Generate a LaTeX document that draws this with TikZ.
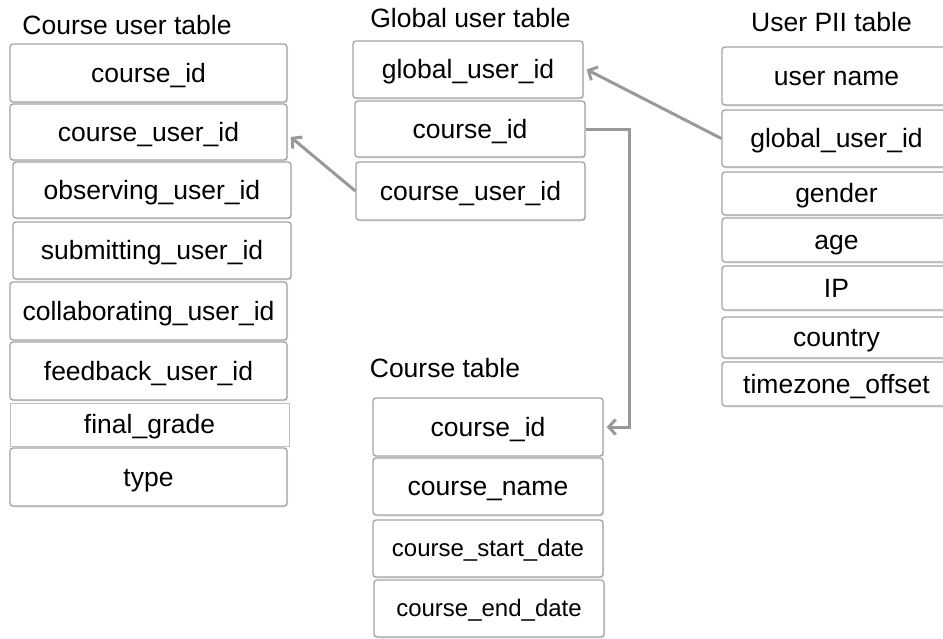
\documentclass[tikz,border=0pt]{standalone}
\usepackage{fontspec}
\setmainfont{Liberation Sans}
\usetikzlibrary{arrows.meta, shadows}

\definecolor{boxgray}{HTML}{A3A3A3}
\definecolor{linkgray}{HTML}{999999}
\newcommand{\fieldfont}{\fontsize{26.5}{30}\selectfont}
\newcommand{\smallfieldfont}{\fontsize{24}{28}\selectfont}

\begin{document}
\begin{tikzpicture}[x=1pt, y=-1pt,
		field/.style={draw=boxgray, line width=1.3pt, rounded corners=3pt, fill=white, inner sep=0pt,
			text height=18pt, text depth=0pt, font=\fieldfont,
			drop shadow={opacity=0.2, shadow xshift=1pt, shadow yshift=-1.5pt}},
		title/.style={font=\fieldfont, inner sep=0pt},
		link/.style={draw=linkgray, line width=3pt, -{Straight Barb[length=7pt,width=15pt,line width=3pt]}}]

		\useasboundingbox (0,0) rectangle (943,638);

		% course user table
		\node at (127,25) [title] (CUTitle) {Course user table};
		\node at (148.5,73) [field,minimum width=277pt,minimum height=58pt] (CUCourseId) {course\_id};
		\node at (148.5,132) [field,minimum width=277pt,minimum height=56pt] (CUCourseUserId) {course\_user\_id};
		\node at (152,190) [field,minimum width=278pt,minimum height=56pt] (CUObservingUserId) {observing\_user\_id};
		\node at (152,250.5) [field,minimum width=278pt,minimum height=57pt] (CUSubmittingUserId) {submitting\_user\_id};
		\node at (148.5,311) [field,minimum width=277pt,minimum height=58pt] (CUCollaboratingUserId) {collaborating\_user\_id};
		\node at (148.5,371) [field,minimum width=277pt,minimum height=58pt] (CUFeedbackUserId) {feedback\_user\_id};
		\node at (149.5,424.5) [draw=boxgray!70,line width=0.8pt,fill=white,inner sep=0pt,text height=18pt,text depth=0pt,font=\fieldfont,minimum width=279pt,minimum height=43pt] (CUFinalGrade) {final\_grade};
		\node at (148.5,477) [field,minimum width=277pt,minimum height=58pt] (CUType) {type};

		% global user table
		\node at (470.5,18) [title] (GUTitle) {Global user table};
		\node at (468,69.5) [field,minimum width=230pt,minimum height=57pt] (GUGlobalUserId) {global\_user\_id};
		\node at (470,129) [field,minimum width=230pt,minimum height=56pt] (GUCourseId) {course\_id};
		\node at (470.5,191) [field,minimum width=229pt,minimum height=58pt] (GUCourseUserId) {course\_user\_id};

		% user PII table
		\node at (831.5,22) [title] (PIITitle) {User PII table};
		\node at (836.5,76) [field,minimum width=229pt,minimum height=58pt] (PIIUserName) {user name};
		\node at (836.5,138.5) [field,minimum width=229pt,minimum height=57pt] (PIIGlobalUserId) {global\_user\_id};
		\node at (836.5,193.5) [field,minimum width=229pt,minimum height=43pt] (PIIGender) {gender};
		\node at (836.5,240) [field,minimum width=229pt,minimum height=44pt] (PIIAge) {age};
		\node at (836.5,288) [field,minimum width=229pt,minimum height=44pt] (PIIIP) {IP};
		\node at (836.5,337.5) [field,minimum width=229pt,minimum height=41pt] (PIICountry) {country};
		\node at (836.5,384) [field,minimum width=229pt,minimum height=44pt] (PIITimezoneOffset) {timezone\_offset};

		% course table
		\node at (445,368) [title] (CTTitle) {Course table};
		\node at (488,427) [field,minimum width=230pt,minimum height=58pt] (CTCourseId) {course\_id};
		\node at (488,486.5) [field,minimum width=230pt,minimum height=57pt] (CTCourseName) {course\_name};
		\node at (488,548.5) [field,minimum width=230pt,minimum height=57pt,text height=16pt,font=\smallfieldfont] (CTStartDate) {course\_start\_date};
		\node at (489,608.5) [field,minimum width=230pt,minimum height=57pt,text height=16pt,font=\smallfieldfont] (CTEndDate) {course\_end\_date};

		\coordinate (CourseElbow) at (629,129);

		\path[link] (GUCourseUserId.west) -- ([xshift=3pt,yshift=-5pt]CUCourseUserId.east);
		\path[link] (PIIGlobalUserId.west) -- ([xshift=3pt]GUGlobalUserId.east);
		\path[link] (GUCourseId.east) -- (CourseElbow) |- ([xshift=3pt]CTCourseId.east);
	\end{tikzpicture}
\end{document}
